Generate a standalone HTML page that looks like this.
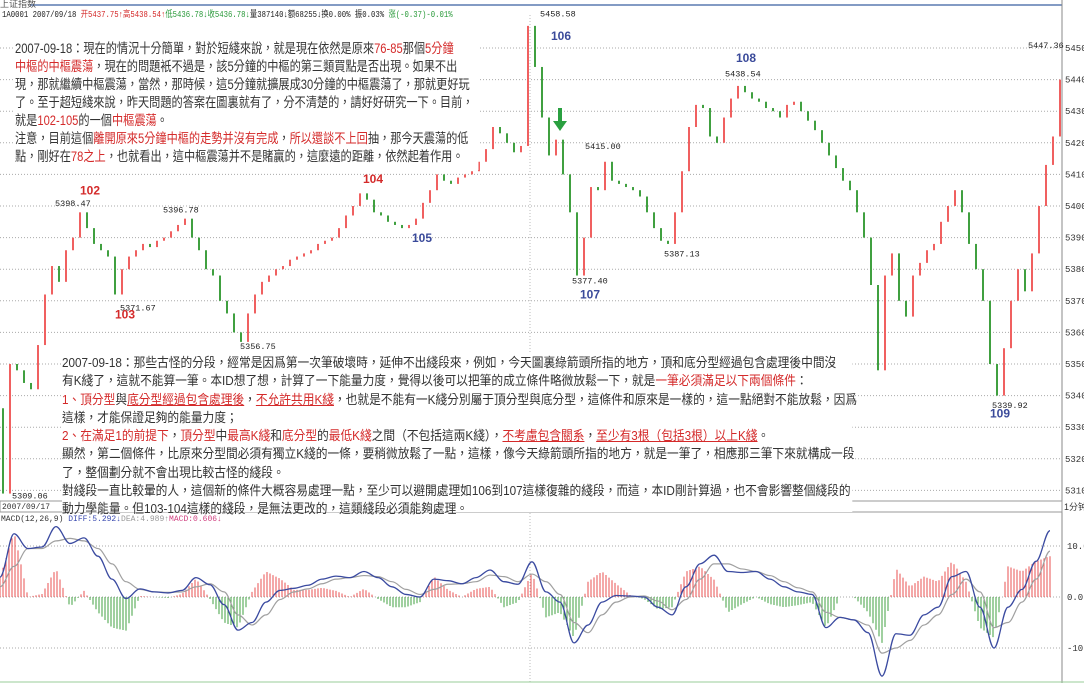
<!DOCTYPE html>
<html><head><meta charset="utf-8">
<style>
html,body{margin:0;padding:0;background:#fff;width:1084px;height:683px;overflow:hidden;position:relative;font-family:"Liberation Sans","Noto Sans CJK TC",sans-serif}
svg{position:absolute;left:0;top:0}
.tb{position:absolute;background:#fff;color:#333;white-space:nowrap;font-family:"Liberation Sans","Noto Sans CJK TC",sans-serif;transform-origin:0 0}
.r{color:#d42a2a}
.u{text-decoration:underline}
.hdr{position:absolute;left:2px;top:7px;font:9px "Liberation Mono","Noto Sans CJK SC",monospace;white-space:nowrap;color:#222;transform:scaleX(0.81);transform-origin:0 0}
</style></head><body>
<svg id="chart" width="1084" height="683"></svg>

<div class="hdr">1A0001 2007/09/18 <span style="color:#d42a2a">开5437.75↑高5438.54↑</span><span style="color:#2a9a3a">低5436.78↓收5436.78↓</span>量387140↓额68255↓换0.00% 振0.03% <span style="color:#2a9a3a">涨(-0.37)-0.01%</span></div>
<div style="position:absolute;left:0;top:-3px;font:9px 'Liberation Sans','Noto Sans CJK SC',sans-serif;color:#555">上证指数</div>

<div class="tb" style="left:15px;top:40px;width:555px;padding-bottom:4px;font-size:13.4px;line-height:18px;transform:scaleX(0.835)">
2007-09-18：現在的情況十分簡單，對於短綫來說，就是現在依然是原來<span class="r">76-85</span>那個<span class="r">5分鐘</span><br>
<span class="r">中樞的中樞震蕩</span>，現在的問題衹不過是，該5分鐘的中樞的第三類買點是否出現。如果不出<br>
現，那就繼續中樞震蕩，當然，那時候，這5分鐘就擴展成30分鐘的中樞震蕩了，那就更好玩<br>
了。至于超短綫來說，昨天問題的答案在圖裏就有了，分不清楚的，請好好研究一下。目前，<br>
就是<span class="r">102-105</span>的一個<span class="r">中樞震蕩</span>。<br>
注意，目前這個<span class="r">離開原來5分鐘中樞的走勢并沒有完成</span>，<span class="r">所以還談不上回</span>抽，那今天震蕩的低<br>
點，剛好在<span class="r">78之上</span>，也就看出，這中樞震蕩并不是賭贏的，這麼遠的距離，依然起着作用。
</div>

<div class="tb" style="left:62px;top:354px;width:890px;height:158px;font-size:13.2px;line-height:18.3px;transform:scaleX(0.888)">
2007-09-18：那些古怪的分段，經常是因爲第一次筆破壞時，延伸不出綫段來，例如，今天圖裏綠箭頭所指的地方，頂和底分型經過包含處理後中間沒<br>
有K綫了，這就不能算一筆。本ID想了想，計算了一下能量力度，覺得以後可以把筆的成立條件略微放鬆一下，就是<span class="r">一筆必須滿足以下兩個條件</span>：<br>
<span class="r">1、頂分型</span>與<span class="r u">底分型經過包含處理後</span>，<span class="r u">不允許共用K綫</span>，也就是不能有一K綫分別屬于頂分型與底分型，這條件和原來是一樣的，這一點絕對不能放鬆，因爲<br>
這樣，才能保證足夠的能量力度；<br>
<span class="r">2、在滿足1的前提下</span>，<span class="r">頂分型</span>中<span class="r">最高K綫</span>和<span class="r">底分型</span>的<span class="r">最低K綫</span>之間（不包括這兩K綫），<span class="r u">不考慮包含關系</span>，<span class="r u">至少有3根（包括3根）以上K綫</span>。<br>
顯然，第二個條件，比原來分型間必須有獨立K綫的一條，要稍微放鬆了一點，這樣，像今天綠箭頭所指的地方，就是一筆了，相應那三筆下來就構成一段<br>
了，整個劃分就不會出現比較古怪的綫段。<br>
對綫段一直比較暈的人，這個新的條件大概容易處理一點，至少可以避開處理如106到107這樣復雜的綫段，而這，本ID剛計算過，也不會影響整個綫段的<br>
動力學能量。但103-104這樣的綫段，是無法更改的，這類綫段必須能夠處理。
</div>

<svg id="overlay" width="1084" height="683" style="pointer-events:none"></svg>

<script>
// ---- price data (1-minute closes) ----
const firstOpen = 5336;
const closes = [5309,5350,5348,5344,5342,5356,5372,5381,5376,5386,5390,5398,5393,5388,5386,5384,5372,5380,5384,5386,5388,5387,5389,5390,5392,5394,5396,5390,5386,5380,5378,5370,5366,5360,5357,5366,5372,5376,5378,5380,5381,5383,5384,5385,5386,5388,5389,5390,5393,5397,5400,5404,5402,5398,5397,5395,5394,5393,5394,5396,5401,5405,5410,5408,5407,5409,5410,5411,5414,5418,5425,5423,5420,5417,5419,5457,5444,5428,5416,5421,5410,5398,5378,5390,5406,5405,5414,5408,5407,5406,5405,5403,5398,5393,5389,5388,5398,5411,5425,5432,5431,5422,5420,5428,5434,5438,5436,5434,5433,5431,5430,5428,5432,5433,5430,5427,5424,5420,5416,5412,5408,5405,5398,5390,5375,5348,5378,5385,5370,5365,5378,5382,5386,5388,5395,5400,5405,5398,5388,5380,5370,5350,5340,5355,5370,5380,5373,5385,5400,5413,5422,5440];
const priceTicks = [5450,5440,5430,5420,5410,5400,5390,5380,5370,5360,5350,5340,5330,5320,5310];
const peakLabels = [["102",80,"#d42a2a",5398,-18],["103",115,"#d42a2a",5371,21],["104",363,"#d42a2a",5405,-7],["105",412,"#3a4a9a",5393,14],["106",551,"#3a4a9a",5449,-11],["107",580,"#3a4a9a",5377,20],["108",736,"#3a4a9a",5444,-5],["109",990,"#3a4a9a",5333,0]];
const priceNotes = [["5398.47",55,5400],["5371.67",120,5367],["5396.78",163,5398],["5356.75",240,5354.7],["5458.58",540,5460],["5415.00",585,5418],["5377.40",572,5375.4],["5387.13",664,5384],["5438.54",725,5441],["5339.92",992,5336],["5447.36",1028,5450],["5309.06",12,5307.5]];
// ---- MACD data ----
const diff = [3.9,12.4,9.5,9.8,13.8,10.5,11.6,8,3.5,-0.3,1.6,1,0.8,1.3,3.8,2.4,-1.5,-6.5,-5,-1,1.3,1.7,2.3,3.5,4.1,3.8,5,3.8,2,0.5,0,3.5,3.2,2.6,3.8,5.3,3,2.5,6.9,1,-1,-9,-5.5,-1,0.3,0.2,0,-2,-3.5,2,6.5,8.2,5,4.8,5,3.5,2,1,0.5,-6,-4,-4.5,-7,-15.5,-7.2,-7.5,-3.5,-2,4,5,-2,-10,-2,1.5,7,13];
const dea = [2,6,9.5,9.5,11,11.5,11,9.5,6.5,3,1.5,1,0.9,1,2,2.6,1,-3.5,-5.5,-3.5,-0.5,1,1.6,2.6,3.5,3.8,4.2,4,3,1.5,0.5,1.5,2.5,2.6,3,4.3,4,3,4.5,3,0.5,-5,-7,-3.5,-1,0,0.2,-0.8,-2.5,-0.5,3.5,6.5,6.5,5.5,5,4.2,3,1.8,1,-3,-4,-4.5,-5.5,-11,-10,-8.5,-5.5,-3.5,0.5,3.5,1,-6,-5,-1,3.5,9];
const macdTicks = [10,0,-10];

const NS="http://www.w3.org/2000/svg";
const svg=document.getElementById('chart');
const ov=document.getElementById('overlay');
function el(t,a,p){const e=document.createElementNS(NS,t);for(const k in a)e.setAttribute(k,a[k]);(p||svg).appendChild(e);return e;}
const AXIS_X=1062;
const py=p=>48+(5450-p)*3.16;
const bx=i=>3+i*7;
const my=v=>597-v*5.1;
const mx=i=>i*14;

let f=el('line',{x1:30,y1:5,x2:AXIS_X,y2:5,stroke:'#5a7ab0','stroke-width':1.5});


let ax=el('line',{x1:AXIS_X,y1:0,x2:AXIS_X,y2:683,stroke:'#888'});


let vl=el('line',{x1:530,y1:15,x2:530,y2:683,stroke:'#bbb','stroke-dasharray':'1,2'});



priceTicks.forEach(p=>{
  const g=el('line',{x1:0,y1:py(p),x2:AXIS_X,y2:py(p),stroke:'#aaa','stroke-dasharray':'1,2'});
  
  
  const t=el('text',{x:1065,y:py(p)+3,'font-size':9,'font-family':'Liberation Mono,monospace',fill:'#333'});
  t.textContent=p.toFixed(1);
  
  
});

closes.forEach((c,i)=>{
  const o=i===0?firstOpen:closes[i-1];
  const up=c>=o;
  const y1=py(Math.max(o,c)),y2=py(Math.min(o,c));
  const r=el('rect',{x:bx(i)-1,y:y1,width:2,height:Math.max(1.5,y2-y1),fill:up?'#f06060':'#40a040'});
  
  
});

priceNotes.forEach(n=>{
  const t=el('text',{x:n[1],y:py(n[2]),'font-size':8.5,'font-family':'Liberation Mono,monospace',fill:'#222'});
  t.textContent=n[0];
  
  
});
peakLabels.forEach(n=>{
  const t=el('text',{x:n[1],y:py(n[3])+n[4],'font-size':12,'font-weight':'bold','font-family':'Liberation Sans,sans-serif',fill:n[2]});
  t.textContent=n[0];
  
  
});
let arrow=el('path',{d:'M558,108 L562,108 L562,121 L567,121 L560,131 L553,121 L558,121 Z',fill:'#2aa040'});



let sep=el('rect',{x:0,y:501,width:AXIS_X,height:11,fill:'#fff',stroke:'#999'});


let d1=el('text',{x:2,y:509,'font-size':8,'font-family':'Liberation Mono,monospace',fill:'#333'});d1.textContent='2007/09/17';


let d2=el('text',{x:528,y:509,'font-size':8,'font-family':'Liberation Mono,monospace',fill:'#333'});d2.textContent='09/18';


let ub=el('text',{x:1064,y:510,'font-size':9,'font-family':'Liberation Sans,Noto Sans CJK SC,sans-serif',fill:'#333'});ub.textContent='1分钟';



let mh=el('text',{x:1,y:521,'font-size':8,'font-family':'Liberation Mono,monospace',fill:'#333'},ov);


[['MACD(12,26,9) ','#333'],['DIFF:5.292↓','#3a4ab0'],['DEA:4.989↑','#999'],['MACD:0.606↓','#d04080']].forEach(s=>{
  const ts=el('tspan',{fill:s[1]},mh);ts.textContent=s[0];
});
macdTicks.forEach(v=>{
  const g=el('line',{x1:0,y1:my(v),x2:AXIS_X,y2:my(v),stroke:'#aaa','stroke-dasharray':'1,2'});
  
  
  const t=el('text',{x:1067,y:my(v)+3,'font-size':9,'font-family':'Liberation Mono,monospace',fill:'#333'});
  t.textContent=v.toFixed(1);
  
  
});
for(let x=0;x<=mx(diff.length-1);x+=3){
  const i=Math.min(diff.length-2,Math.floor(x/14)),t=(x-mx(i))/14;
  const h=2*((diff[i]-dea[i])*(1-t)+(diff[i+1]-dea[i+1])*t);
  const b=el('line',{x1:x,y1:my(0),x2:x,y2:my(h),stroke:h>=0?'#e85050':'#40a040','stroke-width':1});
  
  
}
function curve(arr,color,name,w){
  let d='M'+mx(0)+','+my(arr[0]);
  for(let i=1;i<arr.length;i++){
    const x0=mx(i-1),x1=mx(i);
    d+=' C'+(x0+5)+','+my(arr[i-1])+' '+(x1-5)+','+my(arr[i])+' '+x1+','+my(arr[i]);
  }
  const p=el('path',{d:d,fill:'none',stroke:color,'stroke-width':w});
  
  
}
curve(dea,'#a0a0a0','dea-line',1.2);
curve(diff,'#3a4aa0','diff-line',1.3);
let bl=el('line',{x1:0,y1:682,x2:1084,y2:682,stroke:'#9c9'});


</script>
</body></html>
